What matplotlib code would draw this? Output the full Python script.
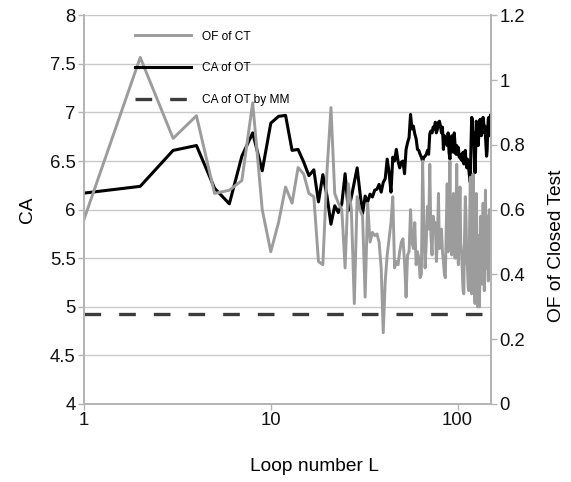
import matplotlib
matplotlib.use("Agg")
import matplotlib.pyplot as plt
from matplotlib.ticker import FixedLocator, NullLocator

plt.rcParams["font.family"] = ["Liberation Sans", "DejaVu Sans"]

# --- datos ---
loop_L = list(range(1, 151))

ca_ot = [
    6.17, 6.24, 6.61, 6.66, 6.22, 6.06, 6.55, 6.79, 6.40, 6.89,
    6.96, 6.97, 6.61, 6.62, 6.49, 6.35, 6.41, 6.08, 6.36, 6.14,
    5.85, 6.04, 5.97, 6.06, 6.37, 5.99, 6.13, 6.28, 6.43, 6.18,
    5.96, 6.14, 6.08, 6.16, 6.13, 6.20, 6.21, 6.26, 6.18, 6.28,
    6.32, 6.52, 6.38, 6.18, 6.54, 6.50, 6.62, 6.50, 6.43, 6.49,
    6.50, 6.37, 6.62, 6.69, 6.74, 6.98, 6.83, 6.86, 6.78, 6.73,
    6.62, 6.61, 6.57, 6.54, 6.50, 6.54, 6.55, 6.57, 6.61, 6.57,
    6.78, 6.81, 6.79, 6.85, 6.83, 6.90, 6.79, 6.83, 6.90, 6.91,
    6.86, 6.79, 6.85, 6.62, 6.76, 6.69, 6.73, 6.66, 6.79, 6.59,
    6.52, 6.66, 6.76, 6.64, 6.59, 6.79, 6.66, 6.57, 6.66, 6.57,
    6.64, 6.54, 6.57, 6.52, 6.57, 6.50, 6.59, 6.47, 6.55, 6.61,
    6.49, 6.43, 6.52, 6.47, 6.40, 6.33, 6.28, 6.66, 6.95, 6.93,
    6.69, 6.79, 6.55, 6.38, 6.62, 6.91, 6.83, 6.73, 6.66, 6.79,
    6.90, 6.93, 6.83, 6.76, 6.85, 6.93, 6.95, 6.90, 6.79, 6.86,
    6.76, 6.66, 6.55, 6.61, 6.83, 6.93, 6.95, 6.76, 6.90, 6.97,
]

of_ct = [
    0.57, 1.07, 0.82, 0.89, 0.65, 0.66, 0.69, 0.93, 0.60, 0.47,
    0.56, 0.67, 0.62, 0.73, 0.71, 0.65, 0.64, 0.44, 0.43, 0.72,
    0.915, 0.65, 0.62, 0.60, 0.42, 0.68, 0.60, 0.31, 0.64, 0.60,
    0.58, 0.33, 0.62, 0.50, 0.53, 0.52, 0.525, 0.50, 0.42, 0.22,
    0.38, 0.46, 0.51, 0.56, 0.64, 0.42, 0.44, 0.43, 0.47, 0.50,
    0.51, 0.44, 0.33, 0.46, 0.47, 0.60, 0.50, 0.48, 0.56, 0.43,
    0.47, 0.45, 0.39, 0.40, 0.75, 0.55, 0.42, 0.50, 0.61, 0.54,
    0.74, 0.52, 0.46, 0.58, 0.55, 0.56, 0.44, 0.50, 0.65, 0.48,
    0.50, 0.54, 0.47, 0.44, 0.40, 0.39, 0.55, 0.68, 0.47, 0.50,
    0.75, 0.50, 0.46, 0.60, 0.65, 0.49, 0.45, 0.58, 0.74, 0.47,
    0.43, 0.55, 0.67, 0.50, 0.47, 0.41, 0.35, 0.34, 0.52, 0.64,
    0.58, 0.45, 0.42, 0.36, 0.35, 0.55, 0.70, 0.52, 0.34, 0.45,
    0.71, 0.55, 0.40, 0.31, 0.45, 0.65, 0.50, 0.30, 0.42, 0.52,
    0.30, 0.46, 0.58, 0.41, 0.37, 0.50, 0.62, 0.47, 0.35, 0.44,
    0.66, 0.52, 0.42, 0.58, 0.48, 0.38, 0.52, 0.60, 0.50, 0.45,
]

ca_mm = 4.93

x_ticks = [1, 10, 100]
x_tick_labels = ["1", "10", "100"]
ca_ticks = [4, 4.5, 5, 5.5, 6, 6.5, 7, 7.5, 8]
ca_tick_labels = ["4", "4.5", "5", "5.5", "6", "6.5", "7", "7.5", "8"]
of_ticks = [0, 0.2, 0.4, 0.6, 0.8, 1.0, 1.2]
of_tick_labels = ["0", "0.2", "0.4", "0.6", "0.8", "1", "1.2"]

# --- estilo ---
COL_GRIS = "#9c9c9c"
COL_EJE = "#b4b4b4"
COL_GRID = "#c8c8c8"
COL_MM = "#3c3c3c"
FS_TICK = 13.3
FS_TITULO = 13.8

fig = plt.figure(figsize=(5.71, 4.82), dpi=100)
ax = fig.add_axes([84 / 571, 1 - 404 / 482, (491 - 84) / 571, (404 - 15.3) / 482])
ax2 = ax.twinx()

ln_ca, = ax.plot(loop_L, ca_ot, color="black", lw=2.2, label="CA of OT", zorder=3)
ln_mm = ax.axhline(ca_mm, color=COL_MM, lw=2.4, dashes=(5.0, 5.4),
                   label="CA of OT by MM", zorder=2)
ln_of, = ax2.plot(loop_L, of_ct, color=COL_GRIS, lw=2.1, label="OF of CT")

ax.set_xscale("log")
ax.set_xlim(1, 151)
ax.set_ylim(4, 8)
ax2.set_ylim(0, 1.2)

ax.xaxis.set_major_locator(FixedLocator(x_ticks))
ax.xaxis.set_minor_locator(NullLocator())
ax.set_xticklabels(x_tick_labels)
ax.set_yticks(ca_ticks)
ax.set_yticklabels(ca_tick_labels)
ax2.set_yticks(of_ticks)
ax2.set_yticklabels(of_tick_labels)

ax.yaxis.grid(True, color=COL_GRID, lw=1.0)
ax.set_axisbelow(True)

for a in (ax, ax2):
    a.spines["top"].set_visible(False)
    for s in ("left", "right", "bottom"):
        a.spines[s].set_color(COL_EJE)
        a.spines[s].set_linewidth(1.3)
    a.tick_params(axis="both", which="major", length=4, width=1, color=COL_EJE,
                  labelsize=FS_TICK, labelcolor="#111111", pad=2)

ax.set_xlabel("Loop number L", fontsize=FS_TITULO)
ax.xaxis.set_label_coords((314 - 84) / 407, (404 - 458) / 388.7)
ax.set_ylabel("CA", fontsize=FS_TITULO)
ax.yaxis.set_label_coords((36 - 84) / 407, 0.5)
ax2.set_ylabel("OF of Closed Test", fontsize=FS_TITULO)
ax2.yaxis.set_label_coords((548 - 84) / 407, (404 - 246) / 388.7)

fig.legend(
    handles=[ln_of, ln_ca, ln_mm],
    loc="upper left",
    bbox_to_anchor=(135 / 571, 1 - 30.5 / 482),
    bbox_transform=fig.transFigure,
    frameon=False,
    fontsize=8.6,
    handlelength=4.66,
    handletextpad=0.92,
    labelspacing=1.66,
    borderpad=0,
    borderaxespad=0,
)

fig.savefig("out.png", dpi=100)
